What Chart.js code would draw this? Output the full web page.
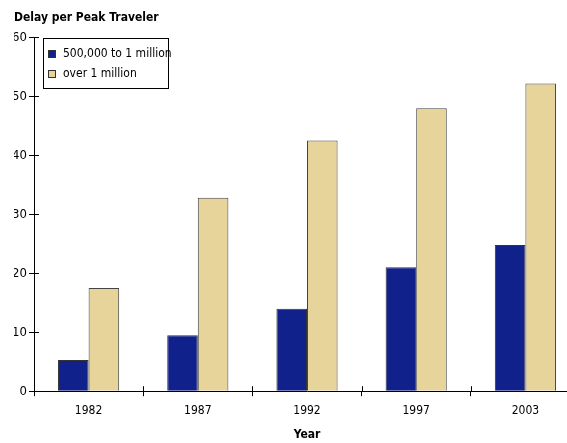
<!DOCTYPE html>
<html>
<head>
<meta charset="utf-8">
<script src="https://cdn.jsdelivr.net/npm/chart.js@4/dist/chart.umd.min.js"></script>
<style>
  html, body { margin: 0; padding: 0; background: #fff; overflow: hidden; }
  #wrap { width: 580px; height: 443px; }
</style>
</head>
<body>
<div id="wrap"><canvas id="delayChart" width="580" height="443"></canvas></div>
<script>
const years = ['1982', '1987', '1992', '1997', '2003'];
const midSize = [5.3, 9.5, 14.0, 21.0, 24.8];
const largeSize = [17.5, 32.8, 42.5, 48.0, 52.2];
const yTicks = [0, 10, 20, 30, 40, 50, 60];

const FONT = '"DejaVu Sans", sans-serif';

// legend box drawn inside the plot, top left
const boxLegend = {
    id: 'boxLegend',
    afterDraw(chart) {
        const ctx = chart.ctx;
        const x = 43, y = 38, w = 125, h = 50;
        ctx.save();
        ctx.fillStyle = '#fff';
        ctx.fillRect(x, y, w, h);
        ctx.strokeStyle = '#000';
        ctx.lineWidth = 1;
        ctx.strokeRect(x + 0.5, y + 0.5, w, h);
        ctx.font = 'condensed 12px ' + FONT;
        ctx.textBaseline = 'middle';
        chart.data.datasets.forEach((ds, i) => {
            const cy = y + 16 + i * 20;
            ctx.fillStyle = ds.backgroundColor;
            ctx.fillRect(x + 5, cy - 4, 8, 8);
            ctx.strokeStyle = '#333';
            ctx.strokeRect(x + 5.5, cy - 3.5, 7, 7);
            ctx.fillStyle = '#000';
            ctx.fillText(ds.label, x + 20, cy);
        });
        ctx.restore();
    }
};

// short tick marks reaching into the plot, like the original
const innerTicks = {
    id: 'innerTicks',
    afterDraw(chart) {
        const ctx = chart.ctx;
        const xs = chart.scales.x, ys = chart.scales.y;
        const area = chart.chartArea;
        ctx.save();
        ctx.strokeStyle = '#000';
        ctx.lineWidth = 1;
        ctx.beginPath();
        ys.ticks.forEach(t => {
            const py = Math.round(ys.getPixelForValue(t.value)) + 0.5;
            ctx.moveTo(area.left, py);
            ctx.lineTo(area.left + 5, py);
        });
        const half = (xs.getPixelForTick(1) - xs.getPixelForTick(0)) / 2;
        for (let i = 1; i < years.length; i++) {
            const px = Math.round(xs.getPixelForTick(i) - half) + 0.5;
            ctx.moveTo(px, area.bottom);
            ctx.lineTo(px, area.bottom - 5);
        }
        ctx.stroke();
        ctx.restore();
    }
};

new Chart(document.getElementById('delayChart'), {
    type: 'bar',
    data: {
        labels: years,
        datasets: [{
            label: '500,000 to 1 million',
            data: midSize,
            backgroundColor: '#10218b',
            borderColor: '#333',
            borderWidth: 1,
            barPercentage: 1,
            categoryPercentage: 0.56,
        }, {
            label: 'over 1 million',
            data: largeSize,
            backgroundColor: '#e6d49b',
            borderColor: '#444',
            borderWidth: 1,
            barPercentage: 1,
            categoryPercentage: 0.56,
        }]
    },
    options: {
        responsive: false,
        animation: false,
        layout: { padding: { left: 14, right: 0, top: 0, bottom: 0 } },
        plugins: {
            legend: { display: false },
            tooltip: { enabled: false },
            title: {
                display: true,
                text: 'Delay per Peak Traveler',
                align: 'start',
                color: '#000',
                font: { family: FONT, size: 12, weight: 'condensed bold' },
                padding: { top: 11, bottom: 12 }
            }
        },
        scales: {
            x: {
                offset: true,
                grid: { offset: true, drawOnChartArea: false, color: '#000', tickLength: 5 },
                border: { color: '#000', width: 1 },
                ticks: { color: '#000', font: { family: FONT, size: 12, weight: 'condensed' }, padding: 7 },
                title: {
                    display: true, text: 'Year', color: '#000',
                    font: { family: FONT, size: 12, weight: 'condensed bold' },
                    padding: { top: 3, bottom: 1 }
                }
            },
            y: {
                min: 0,
                max: 60,
                afterBuildTicks: axis => { axis.ticks = yTicks.map(v => ({ value: v })); },
                afterFit: axis => { axis.width = 20; },
                grid: { drawOnChartArea: false, color: '#000', tickLength: 5 },
                border: { color: '#000', width: 1 },
                ticks: { color: '#000', font: { family: FONT, size: 13, weight: 'condensed' }, padding: 2 }
            }
        }
    },
    plugins: [boxLegend, innerTicks]
});
</script>
</body>
</html>
